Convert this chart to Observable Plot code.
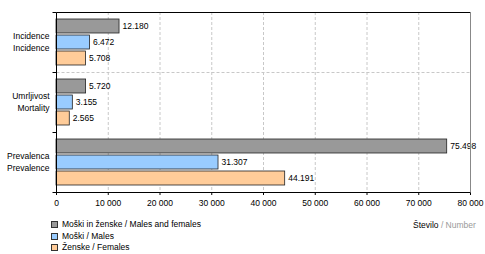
<!DOCTYPE html>
<html><head><meta charset="utf-8">
<script src="https://cdn.jsdelivr.net/npm/d3@7"></script>
<script src="https://cdn.jsdelivr.net/npm/@observablehq/plot@0.6"></script>
<style>
body{margin:0;background:#fff;font-family:"Liberation Sans",Arial,sans-serif;}
#wrap{position:relative;width:485px;height:254px;overflow:hidden;}
#legend{position:absolute;left:0;top:214px;width:485px;height:40px;font-size:8.5px;color:#000;}
.row{position:absolute;left:51px;display:flex;align-items:center;height:10px;white-space:nowrap;}
.sw{width:5px;height:5px;border:1px solid #333;margin-right:4px;}
#unit{position:absolute;left:413px;top:6px;height:10px;line-height:10px;white-space:nowrap;}
</style></head><body><div id="wrap"><div id="chart"></div><div id="legend"></div></div>
<script>
const groups = ["Incidence", "Mortality", "Prevalence"];
const groupLabels = ["Incidence\nIncidence", "Umrljivost\nMortality", "Prevalenca\nPrevalence"];
const seriesNames = ["Moški in ženske / Males and females", "Moški / Males", "Ženske / Females"];
const bothValues = [12180, 5720, 75498];
const maleValues = [6472, 3155, 31307];
const femaleValues = [5708, 2565, 44191];
const xTicks = [0, 10000, 20000, 30000, 40000, 50000, 60000, 70000, 80000];
const unitLabel = ["Število", " / Number"];

const colors = ["#999999", "#99ccff", "#ffcc99"];
const insets = [[7, 39], [23, 23], [39, 7]];
const dys = [-16, 0, 16];
const series = [bothValues, maleValues, femaleValues];
const rows = series.map((vals, s) => groups.map((g, i) => ({group: g, value: vals[i]})));
const labelFmt = d3.formatLocale({thousands: ".", grouping: [3], decimal: ","}).format(",d");
const tickFmt = d3.formatLocale({thousands: " ", grouping: [3], decimal: ","}).format(",d");
const xMax = xTicks[xTicks.length - 1];

const frameMark = (index, scales) => {
  const x = scales.x, y = scales.y;
  const bw = y.bandwidth();
  const x0 = Math.round(x(0)) + 0.5, x1 = Math.round(x(xMax)) + 0.5;
  const bounds = groups.map(g => y(g)).concat([y(groups[groups.length - 1]) + bw]).map(v => Math.round(v) + 0.5);
  const g = d3.create("svg:g");
  // dashed separator between first and second group
  g.append("line").attr("x1", x0).attr("x2", x1).attr("y1", bounds[1]).attr("y2", bounds[1])
    .attr("stroke", "#c8c8c8").attr("stroke-dasharray", "3,2");
  // top border
  g.append("line").attr("x1", x0).attr("x2", x1).attr("y1", bounds[0]).attr("y2", bounds[0]).attr("stroke", "#000");
  // right border
  g.append("line").attr("x1", x1).attr("x2", x1).attr("y1", bounds[0]).attr("y2", bounds[bounds.length - 1]).attr("stroke", "#888");
  // left axis
  g.append("line").attr("x1", x0).attr("x2", x0).attr("y1", bounds[0]).attr("y2", bounds[bounds.length - 1]).attr("stroke", "#000");
  for (const b of bounds) {
    g.append("line").attr("x1", x0 - 4).attr("x2", x0).attr("y1", b).attr("y2", b).attr("stroke", "#000");
  }
  return g.node();
};

const marks = [
  Plot.ruleX(xTicks.slice(1, -1), {stroke: "#c8c8c8", strokeDasharray: "3,2"})
];
series.forEach((vals, s) => {
  marks.push(Plot.barX(rows[s], {
    x: "value", y: "group", fill: colors[s], stroke: "#222", strokeWidth: 0.8,
    insetTop: insets[s][0], insetBottom: insets[s][1]
  }));
});
series.forEach((vals, s) => {
  marks.push(Plot.text(rows[s], {
    x: "value", y: "group", text: d => labelFmt(d.value), textAnchor: "start",
    dx: 3, dy: dys[s], fontSize: 8.5, fill: "#000"
  }));
});
marks.push(Plot.text(groups.map((g, i) => ({group: g, label: groupLabels[i]})), {
  y: "group", frameAnchor: "left", text: "label", textAnchor: "end",
  dx: -7, dy: -1, lineHeight: 1.35, fontSize: 8.5, fill: "#000"
}));
marks.push(frameMark);

const chart = Plot.plot({
  width: 485,
  height: 214,
  marginLeft: 56,
  marginRight: 15,
  marginTop: 12,
  marginBottom: 22,
  style: {fontSize: "8.5px", fontFamily: "Liberation Sans, Arial, sans-serif", background: "#fff", color: "#000"},
  x: {domain: [0, xMax], ticks: xTicks, tickFormat: tickFmt, tickSize: 3, tickPadding: 4, line: true, label: null},
  y: {domain: groups, padding: 0, axis: null},
  marks
});
document.getElementById("chart").appendChild(chart);

const legend = document.getElementById("legend");
const tops = [5, 17, 28];
seriesNames.forEach((name, i) => {
  const r = document.createElement("div");
  r.className = "row";
  r.style.top = tops[i] + "px";
  const sw = document.createElement("div");
  sw.className = "sw";
  sw.style.background = colors[i];
  r.appendChild(sw);
  const t = document.createElement("span");
  t.textContent = name;
  r.appendChild(t);
  legend.appendChild(r);
});
const unit = document.createElement("div");
unit.id = "unit";
const u1 = document.createElement("span"); u1.textContent = unitLabel[0]; u1.style.color = "#000";
const u2 = document.createElement("span"); u2.textContent = unitLabel[1]; u2.style.color = "#999";
unit.appendChild(u1); unit.appendChild(u2);
legend.appendChild(unit);
</script></body></html>
